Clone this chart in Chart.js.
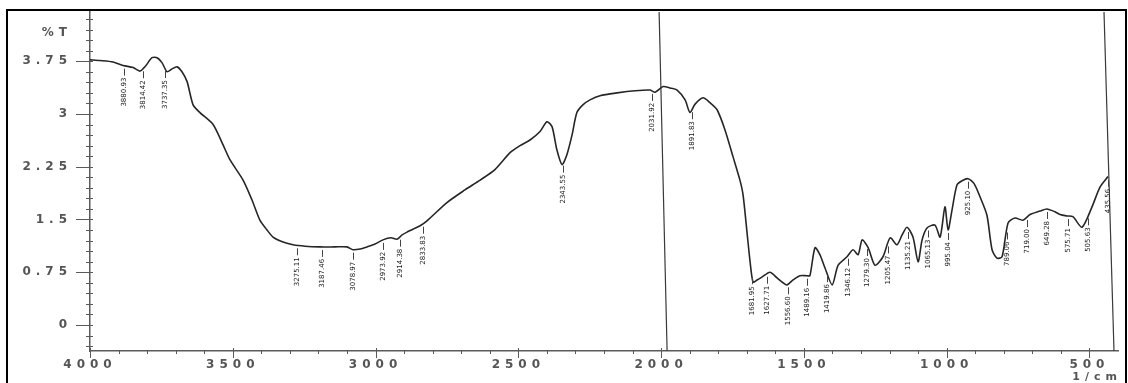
<!DOCTYPE html>
<html>
<head>
<meta charset="utf-8">
<script src="https://cdn.jsdelivr.net/npm/chart.js@4.4.0/dist/chart.umd.min.js"></script>
<style>
  html, body { margin: 0; padding: 0; background: #fff; }
  #wrap { position: relative; width: 1128px; height: 383px; }
</style>
</head>
<body>
<div id="wrap"><canvas id="ir" width="1128" height="383"></canvas></div>
<script>
// FTIR transmittance spectrum (wavenumber in 1/cm, descending)
const wavenumber = [4000,3965,3919,3884,3849,3825,3804,3783,3765,3748,3730,3713,3695,3678,3660,3639,3615,3569,3534,3510,
  3464,3433,3405,3380,3359,3324,3289,3247,3195,3142,3100,3079,3054,3030,3002,2974,2946,2925,2907,2890,
  2865,2844,2820,2750,2687,2634,2582,2529,2494,2459,2424,2400,2382,2365,2347,2330,2312,2295,2274,2249,
  2214,2154,2091,2039,2021,1993,1969,1944,1916,1899,1881,1853,1829,1804,1776,1748,1724,1713,1699,1689,
  1678,1664,1647,1619,1594,1573,1559,1538,1514,1489,1479,1461,1444,1426,1401,1380,1349,1328,1310,1296,
  1275,1251,1223,1198,1174,1156,1139,1118,1100,1086,1069,1041,1023,1006,995,981,964,946,925,904,
  883,859,841,824,806,785,761,733,708,673,649,621,603,579,558,526,491,463,435];
const transmittance = [3.77,3.76,3.74,3.69,3.66,3.61,3.69,3.80,3.80,3.73,3.60,3.64,3.67,3.60,3.46,3.13,3.02,2.85,2.56,2.35,
  2.06,1.78,1.49,1.35,1.25,1.18,1.14,1.12,1.11,1.11,1.11,1.07,1.08,1.11,1.15,1.21,1.24,1.22,1.28,1.32,
  1.37,1.41,1.48,1.74,1.92,2.06,2.21,2.45,2.55,2.63,2.75,2.89,2.82,2.49,2.28,2.42,2.70,3.02,3.13,3.20,
  3.26,3.30,3.33,3.34,3.31,3.39,3.37,3.34,3.20,3.02,3.14,3.23,3.16,3.06,2.77,2.39,2.06,1.85,1.31,0.92,
  0.61,0.64,0.68,0.75,0.67,0.60,0.57,0.64,0.70,0.70,0.70,1.10,1.00,0.81,0.57,0.85,0.97,1.07,1.00,1.21,
  1.10,0.85,0.97,1.24,1.14,1.28,1.39,1.25,0.90,1.21,1.38,1.42,1.25,1.68,1.35,1.64,1.99,2.05,2.08,2.01,
  1.82,1.56,1.07,0.95,0.97,1.45,1.52,1.49,1.57,1.62,1.65,1.61,1.57,1.55,1.54,1.39,1.68,1.96,2.11];

// Off-scale traces (start / end wavenumber, running top to bottom of the frame)
const offscaleTraceA = [2007, 1979];
const offscaleTraceB = [449, 414];

// Axis ranges and ticks
const xRange = [400, 4000];
const yRange = [-0.37, 4.45];
const xTickValues = [4000, 3500, 3000, 2500, 2000, 1500, 1000, 500];
const xMinorStep = 100;
const yTickValues = [0, 0.75, 1.5, 2.25, 3, 3.75];
const yMinorStep = 0.15;
const yUnitTick = 4.15;
const yUnitText = '%T';
const xUnitText = '1/cm';

// Peak picks (1/cm)
const peakWavenumbers = [3880.93, 3814.42, 3737.35, 3275.11, 3187.46, 3078.97, 2973.92, 2914.38, 2833.83,
  2343.55, 2031.92, 1891.83, 1681.95, 1627.71, 1556.60, 1489.16, 1419.86, 1346.12, 1279.30, 1205.47,
  1135.21, 1065.13, 995.04, 925.10, 789.06, 719.00, 649.28, 575.71, 505.63, 435.56];

const AXIS_COLOR = '#5a5a5a';
const LABEL_COLOR = '#555';
const TRACE_COLOR = '#262626';
const TICK_SPACING = '5px';

function transmittanceAt(v) {
  for (let i = 0; i < wavenumber.length - 1; i++) {
    const a = wavenumber[i], b = wavenumber[i + 1];
    if (v <= a && v >= b) {
      const t = (a - v) / (a - b);
      return transmittance[i] + t * (transmittance[i + 1] - transmittance[i]);
    }
  }
  return transmittance[transmittance.length - 1];
}

// Spaced-out tick lettering for the axes
const letterSpacingPlugin = {
  id: 'letterSpacing',
  beforeDraw(chart) { chart.ctx.letterSpacing = TICK_SPACING; },
  beforeDatasetsDraw(chart) { chart.ctx.letterSpacing = '0px'; }
};

// Major/minor tick marks on both axes, plus the wavenumber unit
const tickMarksPlugin = {
  id: 'tickMarks',
  afterDatasetsDraw(chart) {
    const { ctx, scales: { x, y }, chartArea } = chart;
    ctx.save();
    ctx.letterSpacing = '0px';
    ctx.strokeStyle = AXIS_COLOR;
    ctx.lineWidth = 1;
    // y axis
    const left = chartArea.left;
    for (let k = Math.ceil((yRange[0] + 0.05) / yMinorStep); k * yMinorStep <= yRange[1] - 0.08; k++) {
      const v = k * yMinorStep;
      const py = Math.round(y.getPixelForValue(v)) + 0.5;
      const isMajor = yTickValues.some(t => Math.abs(t - v) < 1e-6);
      ctx.beginPath();
      ctx.moveTo(isMajor ? left - 14 : left - 4, py);
      ctx.lineTo(left + 3, py);
      ctx.stroke();
    }
    // x axis
    const bottom = chartArea.bottom;
    for (let v = xRange[1]; v >= xRange[0] + 50; v -= xMinorStep) {
      const px = Math.round(x.getPixelForValue(v)) + 0.5;
      const isMajor = xTickValues.includes(v);
      ctx.beginPath();
      ctx.moveTo(px, bottom - (isMajor ? 3 : 1));
      ctx.lineTo(px, bottom + (isMajor ? 7 : 3));
      ctx.stroke();
    }
    // unit under the right end of the x axis
    ctx.letterSpacing = TICK_SPACING;
    ctx.font = 'bold 11px "DejaVu Sans", sans-serif';
    ctx.fillStyle = LABEL_COLOR;
    ctx.textAlign = 'right';
    ctx.textBaseline = 'middle';
    ctx.fillText(xUnitText, chartArea.right + 4, 377);
    ctx.restore();
  }
};

// Peak annotations: leader line plus vertical wavenumber text under the trace
const peakLabelPlugin = {
  id: 'peakLabels',
  afterDatasetsDraw(chart) {
    const { ctx, scales: { x, y } } = chart;
    ctx.save();
    ctx.letterSpacing = '0px';
    ctx.font = '7px "DejaVu Sans"';
    ctx.fillStyle = '#222';
    ctx.strokeStyle = '#444';
    ctx.lineWidth = 1;
    peakWavenumbers.forEach(v => {
      const px = x.getPixelForValue(v);
      const py = y.getPixelForValue(transmittanceAt(v));
      const lx = Math.round(px) + 0.5;
      ctx.beginPath();
      ctx.moveTo(lx, py + 3);
      ctx.lineTo(lx, py + 10);
      ctx.stroke();
      ctx.save();
      ctx.translate(lx, py + 12);
      ctx.rotate(-Math.PI / 2);
      ctx.textAlign = 'right';
      ctx.textBaseline = 'middle';
      ctx.fillText(v.toFixed(2), 0, 0);
      ctx.restore();
    });
    ctx.restore();
  }
};

// Outer frame around the whole figure
const framePlugin = {
  id: 'frame',
  afterDraw(chart) {
    const { ctx } = chart;
    ctx.save();
    ctx.strokeStyle = '#000';
    ctx.lineWidth = 2;
    ctx.strokeRect(7, 10, 1119, 420);
    ctx.restore();
  }
};

const tickFont = { family: '"DejaVu Sans", sans-serif', size: 12, weight: 'bold' };

new Chart(document.getElementById('ir'), {
  type: 'scatter',
  data: {
    datasets: [
      {
        data: wavenumber.map((w, i) => ({ x: w, y: transmittance[i] })),
        showLine: true,
        borderColor: TRACE_COLOR,
        borderWidth: 1.6,
        pointRadius: 0,
        tension: 0.25
      },
      {
        data: [{ x: offscaleTraceA[0], y: yRange[1] }, { x: offscaleTraceA[1], y: yRange[0] }],
        showLine: true,
        borderColor: '#3a3a3a',
        borderWidth: 1.2,
        pointRadius: 0
      },
      {
        data: [{ x: offscaleTraceB[0], y: yRange[1] }, { x: offscaleTraceB[1], y: yRange[0] }],
        showLine: true,
        borderColor: '#3a3a3a',
        borderWidth: 1.2,
        pointRadius: 0
      }
    ]
  },
  options: {
    responsive: false,
    animation: false,
    devicePixelRatio: 1,
    layout: { padding: { left: 0, top: 12, right: 10, bottom: 0 } },
    plugins: { legend: { display: false }, tooltip: { enabled: false } },
    scales: {
      x: {
        type: 'linear',
        reverse: true,
        min: xRange[0],
        max: xRange[1],
        afterBuildTicks: s => { s.ticks = xTickValues.map(v => ({ value: v })); },
        afterFit: s => { s.height = 32; s.paddingLeft = 0; s.paddingRight = 0; },
        grid: { display: false, drawTicks: false },
        border: { display: true, color: AXIS_COLOR, width: 1.5 },
        ticks: {
          color: LABEL_COLOR,
          font: tickFont,
          padding: 7,
          maxRotation: 0,
          autoSkip: false,
          callback: v => String(v)
        }
      },
      y: {
        type: 'linear',
        min: yRange[0],
        max: yRange[1],
        afterBuildTicks: s => {
          s.ticks = yTickValues.map(v => ({ value: v })).concat([{ value: yUnitTick }]);
        },
        afterFit: s => { s.width = 90; s.paddingTop = 0; s.paddingBottom = 0; },
        grid: { display: false, drawTicks: false },
        border: { display: true, color: AXIS_COLOR, width: 1.5 },
        ticks: {
          color: LABEL_COLOR,
          font: tickFont,
          padding: 18,
          autoSkip: false,
          callback: v => (v === yUnitTick ? yUnitText : String(v))
        }
      }
    }
  },
  plugins: [letterSpacingPlugin, tickMarksPlugin, peakLabelPlugin, framePlugin]
});
</script>
</body>
</html>
